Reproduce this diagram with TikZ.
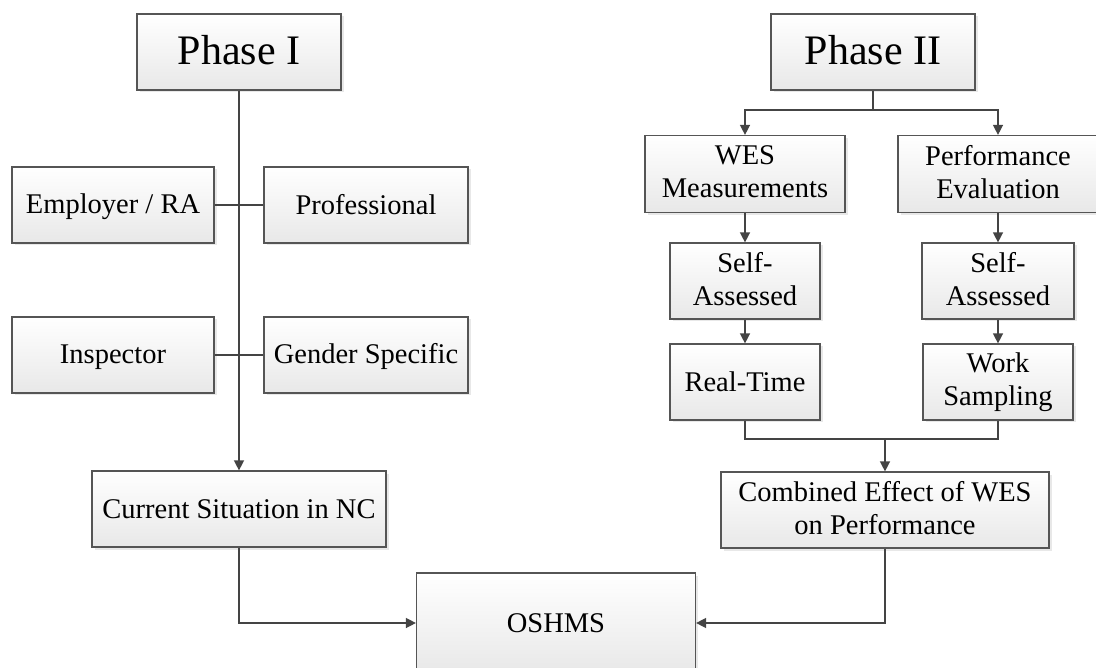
\documentclass[tikz,border=0pt]{standalone}
\usepackage{fontspec}
\setmainfont{Liberation Serif}
\usepackage{xcolor}
\usepackage{tikz}
\usetikzlibrary{arrows.meta,shadows}

\definecolor{edgegray}{HTML}{555555}
\definecolor{linegray}{HTML}{444444}

\newcommand{\boxstrut}{\vrule height 24pt depth 5pt width 0pt}
\newcommand{\bigstrut}{\vrule height 34pt depth 8pt width 0pt}

\tikzset{
  phasebox/.style={draw=edgegray, line width=1.2pt, top color=white, bottom color=black!9,
    drop shadow={shadow xshift=2.5pt, shadow yshift=-2.5pt, fill=black!18},
    minimum height=76pt, inner sep=0pt, align=center,
    font=\fontsize{28.5}{33}\selectfont,
    execute at begin node=\boxstrut, execute at end node=\boxstrut},
  bigbox/.style={phasebox, minimum width=204pt, font=\fontsize{42}{48}\selectfont,
    execute at begin node=\bigstrut, execute at end node=\bigstrut},
  conn/.style={draw=linegray, line width=1.4pt},
  arr/.style={conn, -{Triangle[length=10pt,width=10pt]}}
}

\begin{document}
\begin{tikzpicture}[x=1pt,y=-1pt]
\useasboundingbox (0,0) rectangle (1096,668);

% Phase I
\node[bigbox] (phaseI) at (239,52) {Phase I};
\node[phasebox, minimum width=202pt] (employer) at (113,205) {Employer / RA};
\node[phasebox, minimum width=204pt] (professional) at (366,205) {Professional};
\node[phasebox, minimum width=202pt] (inspector) at (113,355) {Inspector};
\node[phasebox, minimum width=204pt] (gender) at (366,355) {Gender Specific};
\node[phasebox, minimum width=294pt] (current) at (239,509) {Current Situation in NC};

% Phase II
\node[bigbox] (phaseII) at (873,52) {Phase II};
\node[phasebox, minimum width=200pt, minimum height=77pt] (wes) at (745,174) {WES\\Measurements};
\node[phasebox, minimum width=200pt, minimum height=77pt] (perf) at (998,174) {Performance\\Evaluation};
\node[phasebox, minimum width=150pt] (selfA) at (745,281) {Self-\\Assessed};
\node[phasebox, minimum width=152pt] (selfB) at (998,281) {Self-\\Assessed};
\node[phasebox, minimum width=150pt] (realtime) at (745,382) {Real-Time};
\node[phasebox, minimum width=150pt] (worksamp) at (998,382) {Work\\Sampling};
\node[phasebox, minimum width=328pt] (combined) at (885,510) {Combined Effect of WES\\on Performance};

% result
\node[phasebox, minimum width=279pt, minimum height=100pt] (oshms) at (556,623) {OSHMS};

% connectors, phase I
\draw[arr] (phaseI) -- (current);
\draw[conn] (employer) -- (professional);
\draw[conn] (inspector) -- (gender);

% connectors, phase II
\coordinate (split) at (873,110);
\draw[conn] (phaseII) -- (split);
\draw[arr] (split) -| (wes);
\draw[arr] (split) -| (perf);
\draw[arr] (wes) -- (selfA);
\draw[arr] (selfA) -- (realtime);
\draw[arr] (perf) -- (selfB);
\draw[arr] (selfB) -- (worksamp);
\coordinate (merge) at (885,439);
\draw[conn] (realtime) |- (merge) -| (worksamp);
\draw[arr] (merge) -- (combined);

% into OSHMS
\draw[arr] (current) |- (oshms);
\draw[arr] (combined) |- (oshms);
\end{tikzpicture}
\end{document}
